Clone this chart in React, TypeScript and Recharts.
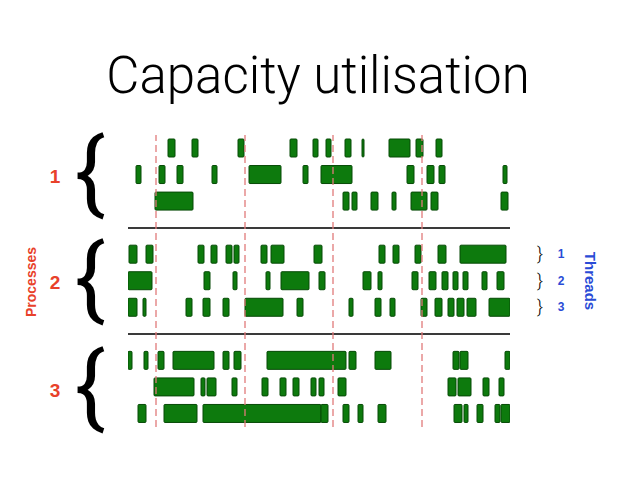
import React from 'react';
import { BarChart, Bar, XAxis, YAxis, ReferenceLine } from 'recharts';

// rows: three processes x three threads, with separator rows between processes
const rowNames = ['P1T1', 'P1T2', 'P1T3', 'sep1', 'P2T1', 'P2T2', 'P2T3', 'sep2', 'P3T1', 'P3T2', 'P3T3'];

// busy intervals per thread, [start, end] in time units
const p1t1 = [[40, 47], [64, 70], [110, 116], [162, 169], [185, 190], [198, 203], [217, 223], [234, 236], [261, 282], [288, 295], [308, 314]];
const p1t2 = [[8, 13], [31, 37], [49, 55], [84, 89], [121, 153], [175, 180], [193, 224], [279, 286], [299, 306], [311, 317], [375, 379]];
const p1t3 = [[27, 65], [215, 221], [224, 229], [243, 250], [264, 268], [283, 299], [303, 310], [373, 380]];
const p2t1 = [[1, 9], [18, 25], [70, 76], [83, 89], [98, 104], [106, 111], [133, 139], [143, 156], [186, 194], [251, 257], [265, 271], [287, 293], [310, 318], [332, 378]];
const p2t2 = [[0, 24], [76, 82], [105, 109], [138, 142], [153, 181], [191, 197], [235, 243], [250, 254], [284, 290], [301, 308], [314, 320], [325, 330], [335, 340], [354, 359], [369, 376]];
const p2t3 = [[0, 9], [15, 18], [58, 64], [75, 82], [95, 101], [117, 155], [169, 175], [221, 225], [247, 253], [262, 267], [293, 299], [307, 314], [320, 326], [329, 336], [339, 348], [361, 382]];
const p3t1 = [[0, 4], [16, 20], [30, 36], [45, 86], [95, 101], [106, 113], [139, 218], [221, 228], [247, 263], [325, 331], [332, 340], [377, 382]];
const p3t2 = [[26, 66], [73, 77], [79, 88], [104, 109], [134, 140], [152, 158], [165, 171], [183, 188], [191, 196], [210, 218], [320, 328], [330, 343], [355, 361], [371, 376]];
const p3t3 = [[10, 18], [36, 69], [75, 193], [193, 200], [215, 221], [230, 235], [250, 258], [326, 334], [336, 340], [349, 355], [367, 372], [373, 382]];

// vertical dashed markers (time units)
const checkpoints = [28, 117, 205, 294];
const separators = ['sep1', 'sep2'];
const processLabels = ['1', '2', '3'];
const threadLabels = ['1', '2', '3'];
const timeDomain = [0, 382];

const segsByRow: Record<string, number[][]> = {
  P1T1: p1t1, P1T2: p1t2, P1T3: p1t3,
  P2T1: p2t1, P2T2: p2t2, P2T3: p2t3,
  P3T1: p3t1, P3T2: p3t2, P3T3: p3t3,
};

const data = rowNames.map((r) => ({ row: r, segs: segsByRow[r] || [] }));
const maxSegs = Math.max(...data.map((d) => d.segs.length));

const W = 638;
const H = 479;
const BAR = 18;
const green = '#0d7a0d';
const greenStroke = '#064a06';
const red = '#e8412a';
const blue = '#2a4bd6';
const sans = '"Liberation Sans", Arial, Helvetica, sans-serif';

export default function App() {
  const processY = [176, 282, 390];
  const braceY = [174, 280, 388];
  const threadY = [254, 281, 307];
  return (
    <div style={{ position: 'absolute', left: 0, top: 0, width: W, height: H, background: '#fff' }}>
      <BarChart
        width={W}
        height={H}
        data={data}
        layout="vertical"
        margin={{ top: 135, right: 128, bottom: 52, left: 128 }}
        barGap={-BAR}
        barCategoryGap={0}
      >
        <XAxis type="number" domain={timeDomain} hide allowDataOverflow />
        <YAxis type="category" dataKey="row" hide />
        {separators.map((s) => (
          <ReferenceLine key={s} y={s} stroke="#3a3a3a" strokeWidth={2} />
        ))}
        {Array.from({ length: maxSegs }, (_, i) => (
          <Bar
            key={i}
            dataKey={(d: any) => (d.segs[i] ? d.segs[i] : null)}
            fill={green}
            stroke={greenStroke}
            strokeWidth={1}
            barSize={BAR}
            radius={1}
            isAnimationActive={false}
          />
        ))}
        {checkpoints.map((c) => (
          <ReferenceLine key={c} x={c} stroke="#e07a7a" strokeWidth={1.3} strokeDasharray="7 4" />
        ))}
      </BarChart>
      <svg
        width={W}
        height={H}
        style={{ position: 'absolute', left: 0, top: 0, pointerEvents: 'none' }}
      >
        <text x={318} y={93} textAnchor="middle" fontFamily='Roboto, "Liberation Sans", sans-serif' fontWeight={300} fontSize={51} fill="#000">
          Capacity utilisation
        </text>
        {processLabels.map((p, i) => (
          <text key={p} x={55} y={processY[i] + 7} textAnchor="middle" fontFamily={sans} fontWeight="bold" fontSize={19} fill={red}>
            {p}
          </text>
        ))}
        {braceY.map((y, i) => (
          <text key={i} x={90} y={y + 29} textAnchor="middle" fontFamily='Roboto, "Liberation Sans", sans-serif' fontWeight={400} fontSize={90} fill="#000">
            {'{'}
          </text>
        ))}
        <text x={0} y={0} transform="translate(36,282) rotate(-90)" textAnchor="middle" fontFamily={sans} fontWeight="bold" fontSize={14} fill={red}>
          Processes
        </text>
        {threadLabels.map((t, i) => (
          <g key={t}>
            <text x={540} y={threadY[i] + 6} textAnchor="middle" fontFamily='Roboto, "Liberation Sans", sans-serif' fontWeight={300} fontSize={18} fill="#000">
              {'}'}
            </text>
            <text x={561} y={threadY[i] + 4} textAnchor="middle" fontFamily={sans} fontWeight="bold" fontSize={12} fill={blue}>
              {t}
            </text>
          </g>
        ))}
        <text x={0} y={0} transform="translate(585,281) rotate(90)" textAnchor="middle" fontFamily={sans} fontWeight="bold" fontSize={15} fill={blue}>
          Threads
        </text>
      </svg>
    </div>
  );
}
